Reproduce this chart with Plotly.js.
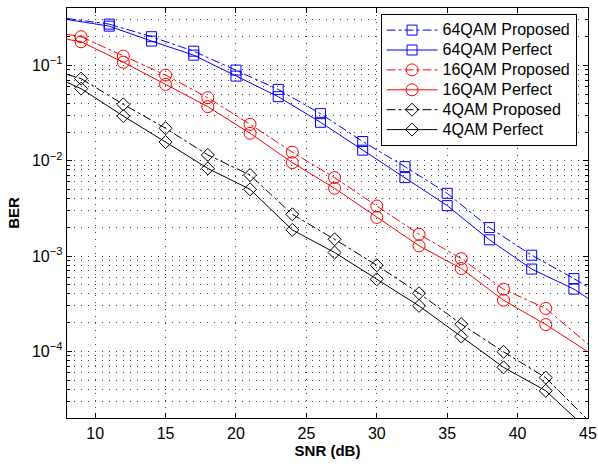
<!DOCTYPE html>
<html><head><meta charset="utf-8">
<script src="https://cdn.plot.ly/plotly-3.0.1.min.js"></script>
<style>html,body{margin:0;padding:0;background:#fff}#chart{width:598px;height:464px}</style>
</head><body><div id="chart"></div>
<script>
// SNR (dB) sample points: first and last entries are the line ends, the rest carry markers
const snr64 = [8, 11, 14, 17, 20, 23, 26, 29, 32, 35, 38, 41, 44, 45];
const ber64Proposed = [0.311, 0.271, 0.200, 0.141, 0.0893, 0.056, 0.0312, 0.0159, 0.00867, 0.00455, 0.00199, 0.00102, 5.8e-4, 4.7e-4];
const ber64Perfect  = [0.303, 0.258, 0.180, 0.128, 0.0772, 0.047, 0.0253, 0.0129, 0.00665, 0.00338, 0.00148, 7.3e-4, 4.5e-4, 3.6e-4];

const snr16 = [8, 9, 12, 15, 18, 21, 24, 27, 30, 33, 36, 39, 42, 45];
const ber16Proposed = [0.211, 0.200, 0.125, 0.0791, 0.0458, 0.0241, 0.0123, 0.00665, 0.00335, 0.00169, 9.4e-4, 4.49e-4, 2.82e-4, 1.19e-4];
const ber16Perfect  = [0.188, 0.177, 0.108, 0.0632, 0.0369, 0.0194, 0.00955, 0.00514, 0.00254, 0.00128, 7.4e-4, 3.44e-4, 1.91e-4, 9.9e-5];

const snr4 = [8, 9, 12, 15, 18, 21, 24, 27, 30, 33, 36, 39, 42, 45];
const ber4Proposed = [0.0805, 0.0726, 0.039, 0.0219, 0.0115, 0.00708, 0.00274, 0.0015, 8.0e-4, 4.07e-4, 1.93e-4, 9.9e-5, 5.3e-5, 1.9e-5];
const ber4Perfect  = [0.0664, 0.057, 0.0294, 0.0157, 0.0083, 0.00501, 0.00188, 0.00109, 5.7e-4, 3.0e-4, 1.43e-4, 6.8e-5, 3.86e-5, 1.5e-5];

const seriesNames = ['64QAM Proposed', '64QAM Perfect', '16QAM Proposed', '16QAM Perfect', '4QAM Proposed', '4QAM Perfect'];
const yTickVals = [1e-4, 1e-3, 1e-2, 1e-1];
const yTickText = ['10<sup>−4</sup>', '10<sup>−3</sup>', '10<sup>−2</sup>', '10<sup>−1</sup>'];
const xTickVals = [10, 15, 20, 25, 30, 35, 40, 45];

const defs = [
  {x: snr64, y: ber64Proposed, name: seriesNames[0], color: '#0000ff', dash: 'dashdot', symbol: 'square-open', size: 10},
  {x: snr64, y: ber64Perfect,  name: seriesNames[1], color: '#0000ff', dash: 'solid',   symbol: 'square-open', size: 10},
  {x: snr16, y: ber16Proposed, name: seriesNames[2], color: '#ff0000', dash: 'dashdot', symbol: 'circle-open', size: 12},
  {x: snr16, y: ber16Perfect,  name: seriesNames[3], color: '#ff0000', dash: 'solid',   symbol: 'circle-open', size: 12},
  {x: snr4,  y: ber4Proposed,  name: seriesNames[4], color: '#000000', dash: 'dashdot', symbol: 'diamond-open', size: 10},
  {x: snr4,  y: ber4Perfect,   name: seriesNames[5], color: '#000000', dash: 'solid',   symbol: 'diamond-open', size: 10}
];

const traces = [];
defs.forEach((d, i) => {
  const n = d.x.length;
  const line = {color: d.color, width: 1, dash: d.dash};
  traces.push({x: d.x.slice(0, 2), y: d.y.slice(0, 2), mode: 'lines', line: line, showlegend: false, hoverinfo: 'skip', legendgroup: 'g' + i});
  traces.push({x: d.x.slice(n - 2), y: d.y.slice(n - 2), mode: 'lines', line: line, showlegend: false, hoverinfo: 'skip', legendgroup: 'g' + i});
  traces.push({x: d.x.slice(1, n - 1), y: d.y.slice(1, n - 1), mode: 'lines+markers',
    name: '<span style="font-size:16px">' + d.name + '</span>', legendgroup: 'g' + i, legendrank: i + 1,
    line: line, marker: {symbol: d.symbol, size: d.size, color: d.color, line: {width: 1, color: d.color}}});
});

const gridDash = '1px,6px';
const gridColor = '#444';
const layout = {
  width: 598, height: 464,
  margin: {l: 67, r: 10, t: 8, b: 46, pad: 0},
  paper_bgcolor: '#fff', plot_bgcolor: '#fff',
  font: {family: '"Liberation Sans", Arial, Helvetica, sans-serif', size: 16, color: '#000'},
  showlegend: true,
  legend: {x: 0.978, xanchor: 'right', y: 0.985, yanchor: 'top', bgcolor: '#fff', bordercolor: '#000', borderwidth: 1,
    font: {size: 13}, itemwidth: 51, tracegroupgap: 0, traceorder: 'normal'},
  xaxis: {
    type: 'linear', range: [8, 45], tickmode: 'array', tickvals: xTickVals,
    showline: true, linecolor: '#000', linewidth: 1.3, mirror: 'ticks',
    ticks: 'inside', ticklen: 5, tickcolor: '#000', tickwidth: 1,
    showgrid: true, gridcolor: gridColor, gridwidth: 1, griddash: gridDash,
    zeroline: false, tickfont: {size: 16},
    title: {text: '<b>SNR (dB)</b>', font: {size: 15}, standoff: 5}
  },
  yaxis: {
    type: 'log', range: [Math.log10(2e-5), Math.log10(0.4)], tickmode: 'array', tickvals: yTickVals, ticktext: yTickText,
    showline: true, linecolor: '#000', linewidth: 1.3, mirror: 'ticks',
    ticks: 'inside', ticklen: 5, tickcolor: '#000', tickwidth: 1,
    showgrid: true, gridcolor: gridColor, gridwidth: 1, griddash: gridDash,
    minor: {dtick: 'D1', ticks: 'inside', ticklen: 3, tickcolor: '#000', showgrid: true, gridcolor: gridColor, gridwidth: 1, griddash: gridDash},
    zeroline: false, tickfont: {size: 16},
    title: {text: '<b>BER</b>', font: {size: 15}, standoff: 8}
  }
};

Plotly.newPlot('chart', traces, layout, {staticPlot: true, displayModeBar: false});
</script>
</body></html>
